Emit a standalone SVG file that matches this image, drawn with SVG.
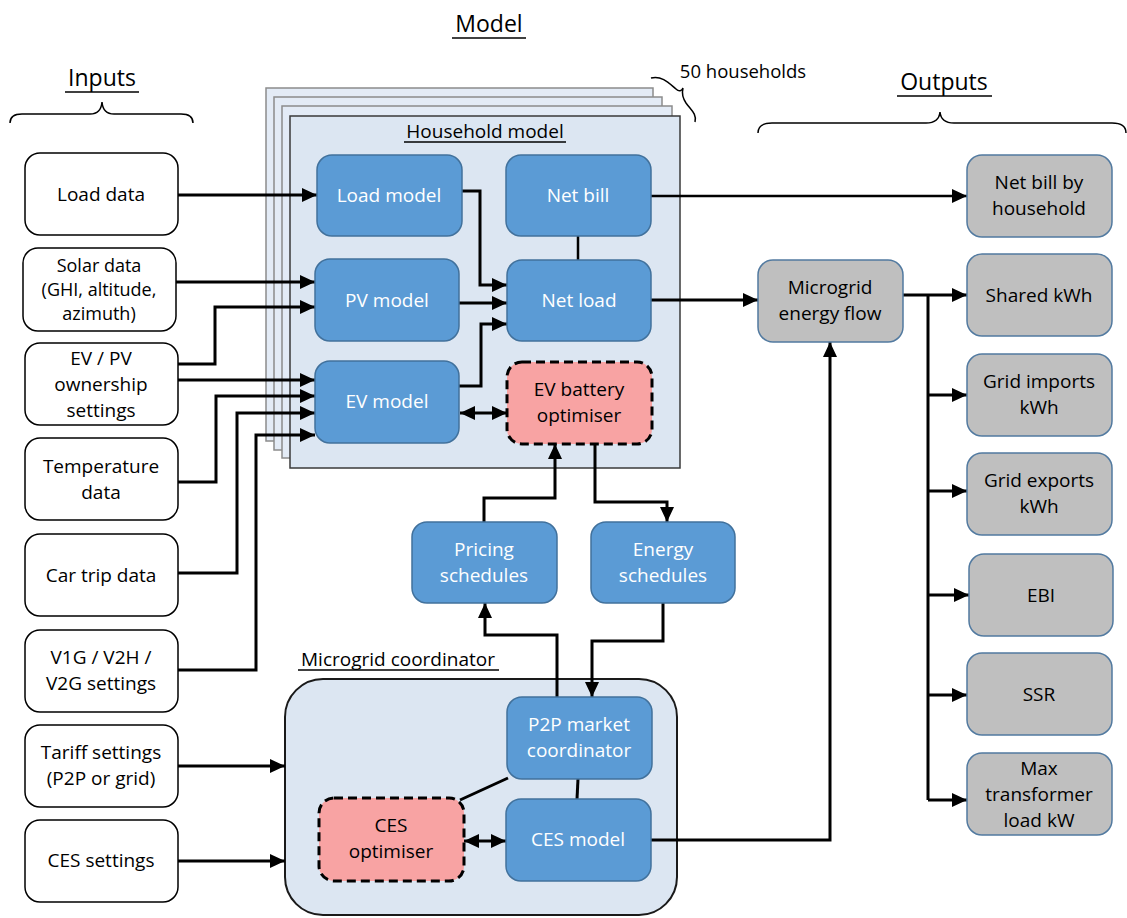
<svg xmlns="http://www.w3.org/2000/svg" width="1127" height="918" viewBox="0 0 1127 918">
<defs>
<marker id="ah" markerUnits="userSpaceOnUse" markerWidth="15" markerHeight="14" refX="15" refY="7" orient="auto-start-reverse">
<path d="M0,0 L15,7 L0,14 z" fill="#000"/>
</marker>
<style>
text{font-family:"Open Sans","Liberation Sans",sans-serif;text-anchor:middle}
.title{font-size:23px;fill:#000}
.sub{font-size:19px;fill:#000}
.blue rect{fill:#5b9bd5;stroke:#41719c;stroke-width:1.5}
.blue text{fill:#fff;font-size:19px}
.pink rect{fill:#f8a3a3;stroke:#000;stroke-width:3;stroke-dasharray:9 5}
.pink text{fill:#000;font-size:19px}
.inp rect{fill:#fff;stroke:#000;stroke-width:1.5}
.inp text{fill:#000;font-size:19px}
.out rect{fill:#bfbfbf;stroke:#527aa0;stroke-width:1.5}
.out text{fill:#000;font-size:19px}
.page{fill:#e3ebf6;stroke:#8c8c8c;stroke-width:1.5}
.brace{fill:none;stroke:#000;stroke-width:1.5}
.ul{stroke:#000;stroke-width:1.5}
.c{fill:none;stroke:#000;stroke-width:3}
.a{marker-end:url(#ah)}
.d{marker-start:url(#ah);marker-end:url(#ah)}
</style>
</defs>
<rect width="1127" height="918" fill="#fff"/>

<g id="titles">
<text class="title" x="489" y="32">Model</text>
<line class="ul" x1="452" y1="38" x2="526" y2="38"/>
<text class="title" x="102" y="86">Inputs</text>
<line class="ul" x1="65" y1="92" x2="139" y2="92"/>
<text class="title" x="944" y="90">Outputs</text>
<line class="ul" x1="897" y1="96" x2="992" y2="96"/>
<path class="brace" d="M10,123 Q10,114 22,114 L90,114 Q101,114 102,102 Q103,114 114,114 L181,114 Q193,114 193,123"/>
<path class="brace" d="M758,133 Q758,123 772,123 L926,123 Q939,123 940,112 Q941,123 954,123 L1112,123 Q1126,123 1126,133"/>
<path class="brace" d="M651,78 C662,75 670,84 676,89 C679,92 682,91 683,88 C682,92 682,97 686,103 C691,110 697,114 695,122"/>
<text x="743" y="78" style="font-size:18.5px;fill:#000">50 households</text>
</g>

<g id="household-stack">
<rect class="page" x="266" y="88" width="387" height="353"/>
<rect class="page" x="274" y="97" width="388" height="353"/>
<rect class="page" x="282" y="106" width="390" height="352"/>
<rect x="290" y="116" width="390" height="352" fill="#dce6f2" stroke="#3a3a3a" stroke-width="1.5"/>
<text class="sub" x="485" y="138">Household model</text>
<line class="ul" x1="404" y1="142" x2="566" y2="142"/>
</g>

<g id="microgrid-coordinator">
<rect x="285" y="679" width="392" height="236" rx="38" fill="#dce6f2" stroke="#1a1a1a" stroke-width="2"/>
<text class="sub" x="398" y="666">Microgrid coordinator</text>
<line class="ul" x1="298" y1="670" x2="499" y2="670"/>
</g>

<g id="connectors">
<path class="c a" d="M178,195 L317,195"/>
<path class="c a" d="M176,282 L315,282"/>
<path class="c a" d="M178,364 L215,364 L215,307 L315,307"/>
<path class="c a" d="M178,380 L315,380"/>
<path class="c a" d="M178,482 L216,482 L216,396 L315,396"/>
<path class="c a" d="M178,573 L237,573 L237,413 L315,413"/>
<path class="c a" d="M178,670 L256,670 L256,435 L315,435"/>
<path class="c a" d="M178,766 L285,766"/>
<path class="c a" d="M178,861 L285,861"/>
<path class="c a" d="M462,191 L480,191 L480,285 L507,285"/>
<path class="c a" d="M459,303 L507,303"/>
<path class="c a" d="M459,386 L481,386 L481,324 L507,324"/>
<path class="c" style="stroke-width:2.5" d="M578,236 L578,260"/>
<path class="c d" d="M460,413 L507,413"/>
<path class="c a" style="stroke-width:2.5" d="M651,196 L967,196"/>
<path class="c a" d="M651,300 L758,300"/>
<path class="c a" d="M484,522 L484,498 L555,498 L555,444"/>
<path class="c a" d="M595,444 L595,502 L667,502 L667,522"/>
<path class="c a" d="M557,697 L557,635 L485,635 L485,603"/>
<path class="c a" d="M663,603 L663,641 L592,641 L592,697"/>
<path class="c" d="M578,779 L577,799"/>
<path class="c" d="M508,778 L460,800"/>
<path class="c d" d="M464,841 L506,841"/>
<path class="c a" d="M651,840 L830,840 L830,342"/>
<path class="c a" d="M903,295 L967,295"/>
<path class="c" d="M928,295 L928,800"/>
<path class="c a" d="M928,395 L967,395"/>
<path class="c a" d="M928,491 L967,491"/>
<path class="c a" d="M928,595 L969,595"/>
<path class="c a" d="M928,695 L967,695"/>
<path class="c a" d="M928,800 L967,800"/>
</g>

<g id="in-load" class="inp"><rect x="25" y="153" width="153" height="82" rx="15"/><text x="101" y="201">Load data</text></g>
<g id="in-solar" class="inp"><rect x="23" y="248" width="153" height="83" rx="15"/><text style="font-size:18px" x="99" y="272">Solar data</text><text style="font-size:18px" x="99" y="296">(GHI, altitude,</text><text style="font-size:18px" x="99" y="320">azimuth)</text></g>
<g id="in-evpv" class="inp"><rect x="25" y="343" width="153" height="82" rx="15"/><text x="101" y="365">EV / PV</text><text x="101" y="391">ownership</text><text x="101" y="417">settings</text></g>
<g id="in-temp" class="inp"><rect x="25" y="438" width="153" height="82" rx="15"/><text x="101" y="473">Temperature</text><text x="101" y="499">data</text></g>
<g id="in-car" class="inp"><rect x="25" y="534" width="153" height="82" rx="15"/><text x="101" y="582">Car trip data</text></g>
<g id="in-v1g" class="inp"><rect x="25" y="630" width="153" height="82" rx="15"/><text x="101" y="664">V1G / V2H /</text><text x="101" y="690">V2G settings</text></g>
<g id="in-tariff" class="inp"><rect x="25" y="725" width="153" height="82" rx="15"/><text x="101" y="759">Tariff settings</text><text x="101" y="785">(P2P or grid)</text></g>
<g id="in-ces" class="inp"><rect x="25" y="820" width="153" height="82" rx="15"/><text x="101" y="867">CES settings</text></g>

<g id="load-model" class="blue"><rect x="317" y="155" width="145" height="81" rx="15"/><text x="389" y="202">Load model</text></g>
<g id="net-bill" class="blue"><rect x="506" y="155" width="145" height="81" rx="15"/><text x="578" y="202">Net bill</text></g>
<g id="pv-model" class="blue"><rect x="315" y="259" width="144" height="82" rx="15"/><text x="387" y="307">PV model</text></g>
<g id="net-load" class="blue"><rect x="507" y="260" width="144" height="81" rx="15"/><text x="579" y="307">Net load</text></g>
<g id="ev-model" class="blue"><rect x="315" y="361" width="144" height="82" rx="15"/><text x="387" y="408">EV model</text></g>
<g id="ev-optimiser" class="pink"><rect x="507" y="362" width="145" height="82" rx="15"/><text x="579" y="396">EV battery</text><text x="579" y="422">optimiser</text></g>
<g id="pricing" class="blue"><rect x="412" y="522" width="145" height="81" rx="15"/><text x="484" y="556">Pricing</text><text x="484" y="582">schedules</text></g>
<g id="energy" class="blue"><rect x="591" y="522" width="144" height="81" rx="15"/><text x="663" y="556">Energy</text><text x="663" y="582">schedules</text></g>
<g id="p2p" class="blue"><rect x="507" y="697" width="145" height="82" rx="15"/><text x="579" y="731">P2P market</text><text x="579" y="757">coordinator</text></g>
<g id="ces-model" class="blue"><rect x="506" y="799" width="145" height="82" rx="15"/><text x="578" y="846">CES model</text></g>
<g id="ces-optimiser" class="pink"><rect x="319" y="798" width="145" height="83" rx="15"/><text x="391" y="832">CES</text><text x="391" y="858">optimiser</text></g>

<g id="mg-flow" class="out"><rect x="758" y="260" width="145" height="82" rx="15"/><text x="830" y="294">Microgrid</text><text x="830" y="320">energy flow</text></g>
<g id="out-bill" class="out"><rect x="967" y="155" width="145" height="82" rx="15"/><text x="1039" y="189">Net bill by</text><text x="1039" y="215">household</text></g>
<g id="out-shared" class="out"><rect x="967" y="254" width="145" height="82" rx="15"/><text x="1039" y="302">Shared kWh</text></g>
<g id="out-imports" class="out"><rect x="967" y="354" width="145" height="82" rx="15"/><text x="1039" y="388">Grid imports</text><text x="1039" y="414">kWh</text></g>
<g id="out-exports" class="out"><rect x="967" y="453" width="145" height="82" rx="15"/><text x="1039" y="487">Grid exports</text><text x="1039" y="513">kWh</text></g>
<g id="out-ebi" class="out"><rect x="969" y="554" width="144" height="82" rx="15"/><text x="1041" y="602">EBI</text></g>
<g id="out-ssr" class="out"><rect x="967" y="653" width="145" height="82" rx="15"/><text x="1039" y="701">SSR</text></g>
<g id="out-max" class="out"><rect x="967" y="753" width="145" height="82" rx="15"/><text x="1039" y="775">Max</text><text x="1039" y="801">transformer</text><text x="1039" y="827">load kW</text></g>
</svg>
